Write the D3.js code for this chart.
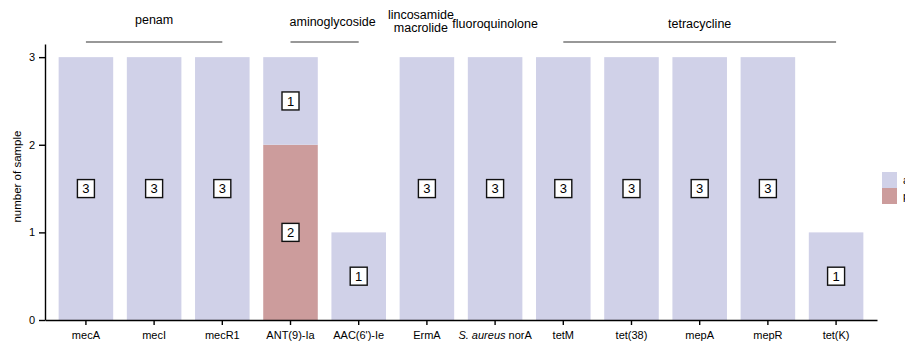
<!DOCTYPE html>
<html>
<head>
<meta charset="utf-8">
<script src="https://cdn.jsdelivr.net/npm/d3@7"></script>
<style>
  body { margin: 0; background: #fff; }
  svg { display: block; font-family: "Liberation Sans", Arial, sans-serif; }
</style>
</head>
<body>
<svg id="chart"></svg>
<script>
const genes = ['mecA', 'mecI', 'mecR1', 'ANT(9)-Ia', "AAC(6')-Ie", 'ErmA',
    'S. aureus norA', 'tetM', 'tet(38)', 'mepA', 'mepR', 'tet(K)'];
const seriesNames = ['present', 'absent'];
const presentCounts = [0, 0, 0, 2, 0, 0, 0, 0, 0, 0, 0, 0];
const absentCounts = [3, 3, 3, 1, 1, 3, 3, 3, 3, 3, 3, 1];
const yTicks = [0, 1, 2, 3];

const groups = [
    { lines: ['penam'], first: 0, last: 2, rule: true },
    { lines: ['aminoglycoside'], first: 3, last: 4, rule: true },
    { lines: ['lincosamide', 'macrolide'], first: 5, last: 5, rule: false },
    { lines: ['fluoroquinolone'], first: 6, last: 6, rule: false },
    { lines: ['tetracycline'], first: 7, last: 11, rule: true },
];

const width = 905;
const height = 341;
const margin = { top: 44, right: 28, bottom: 21, left: 45 };
const colors = { present: '#cc9c9c', absent: '#d0d1e8' };

// hand placement of the group titles (baseline y, x shift)
const titleBase = { penam: 23.5, aminoglycoside: 26, lincosamide: 18.5, fluoroquinolone: 28, tetracycline: 28 };
const titleShift = { aminoglycoside: 8, lincosamide: -6 };

const svg = d3.select('#chart').attr('width', width).attr('height', height);

const x = d3.scaleBand()
    .domain(genes)
    .range([margin.left, width - margin.right])
    .padding(0.2);

const y = d3.scaleLinear()
    .domain([0, 3.15])
    .range([height - margin.bottom, margin.top]);

const rows = genes.map((g, i) => ({ gene: g, present: presentCounts[i], absent: absentCounts[i] }));
const stacked = d3.stack().keys(seriesNames)(rows);

// bars
svg.append('g')
    .selectAll('g')
    .data(stacked)
    .join('g')
    .attr('fill', (s) => colors[s.key])
    .selectAll('rect')
    .data((s) => s)
    .join('rect')
    .attr('x', (d) => x(d.data.gene))
    .attr('width', x.bandwidth())
    .attr('y', (d) => y(d[1]))
    .attr('height', (d) => y(d[0]) - y(d[1]));

// count boxes
const boxes = [];
stacked.forEach((s) => s.forEach((d) => {
    const v = d[1] - d[0];
    if (v > 0) boxes.push({ gene: d.data.gene, mid: (d[0] + d[1]) / 2, v });
}));

const box = svg.append('g').selectAll('g')
    .data(boxes)
    .join('g')
    .attr('transform', (d) => `translate(${x(d.gene) + x.bandwidth() / 2},${y(d.mid)})`);

box.append('rect')
    .attr('x', -8.5).attr('y', -9)
    .attr('width', 17).attr('height', 18)
    .attr('fill', '#fff')
    .attr('stroke', '#111')
    .attr('stroke-width', 1.4);

box.append('text')
    .attr('text-anchor', 'middle')
    .attr('dy', '0.36em')
    .style('font-size', '13px')
    .text((d) => d.v);

// axes
const xAxis = svg.append('g')
    .attr('transform', `translate(0,${height - margin.bottom})`)
    .call(d3.axisBottom(x).tickSize(5).tickSizeOuter(0).tickPadding(6));

xAxis.selectAll('.tick text')
    .style('font-size', '11px')
    .attr('fill', '#000')
    .each(function (d) {
        const t = d3.select(this);
        if (d.startsWith('S. aureus')) {
            t.text('');
            t.append('tspan').style('font-style', 'italic').text('S. aureus');
            t.append('tspan').text(d.replace('S. aureus', ''));
        }
    });

const yAxis = svg.append('g')
    .attr('transform', `translate(${margin.left},0)`)
    .call(d3.axisLeft(y).tickValues(yTicks).tickFormat(d3.format('d'))
        .tickSize(6).tickSizeOuter(0).tickPadding(4));

yAxis.selectAll('.tick text').style('font-size', '11px').attr('fill', '#000');

svg.selectAll('.domain, .tick line').attr('stroke', '#000').attr('stroke-width', 1.4);

svg.append('text')
    .attr('transform', `translate(20.5,${(y(0) + y(3)) / 2 - 12}) rotate(-90)`)
    .attr('text-anchor', 'middle')
    .style('font-size', '11.5px')
    .text('number of sample');

// group annotations
const ann = svg.append('g');
groups.forEach((g) => {
    const x0 = x(genes[g.first]) + x.bandwidth() / 2;
    const x1 = x(genes[g.last]) + x.bandwidth() / 2;
    const cx = (x0 + x1) / 2 + (titleShift[g.lines[0]] || 0);
    if (g.rule) {
        ann.append('line')
            .attr('x1', x0).attr('x2', x1)
            .attr('y1', 42).attr('y2', 42)
            .attr('stroke', '#333')
            .attr('stroke-width', 1.2);
    }
    const t = ann.append('text')
        .attr('text-anchor', 'middle')
        .style('font-size', '12.5px');
    g.lines.forEach((ln, i) => {
        t.append('tspan')
            .attr('x', cx)
            .attr('y', titleBase[g.lines[0]] + i * 13)
            .text(ln);
    });
});

// legend (cut off at the right edge, as in the original)
const legend = svg.append('g').attr('transform', 'translate(882,172)');
['absent', 'present'].forEach((k, i) => {
    legend.append('rect')
        .attr('x', 0).attr('y', i * 16)
        .attr('width', 15).attr('height', 16)
        .attr('fill', colors[k]);
    legend.append('text')
        .attr('x', 21).attr('y', i * 16 + 12)
        .style('font-size', '11px')
        .text(k);
});
</script>
</body>
</html>
